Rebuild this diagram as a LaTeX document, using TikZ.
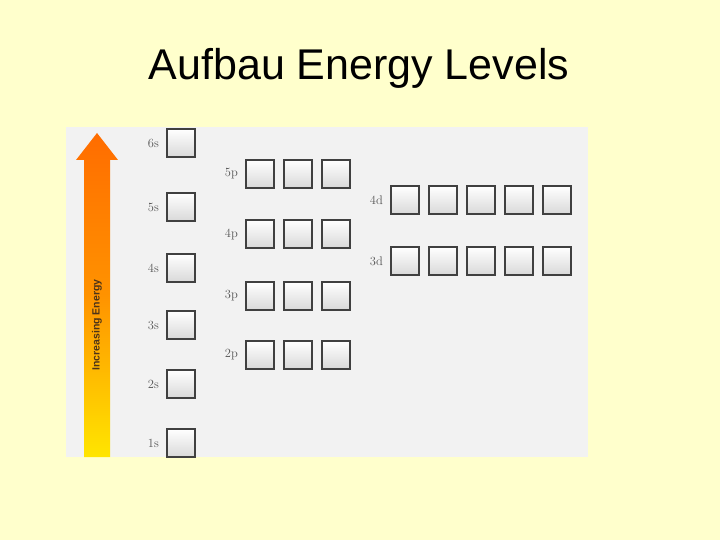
\documentclass[tikz,border=0pt]{standalone}
\usepackage{fontspec}
\setsansfont{Liberation Sans}
\usetikzlibrary{positioning}
\definecolor{pagebg}{HTML}{FFFFCC}
\definecolor{panelbg}{HTML}{F2F2F2}
\definecolor{lblgray}{HTML}{555555}
\tikzset{
  orbital/.style={draw=black!75, line width=1.1pt, minimum size=28pt, inner sep=0pt,
    top color=white, bottom color=black!15},
  sublabel/.style={text=lblgray, font=\fontsize{12.5}{12.5}\selectfont, anchor=east}
}
\begin{document}
\begin{tikzpicture}[x=1pt,y=-1pt]
\useasboundingbox (0,0) rectangle (720,540);
\fill [pagebg] (0,0) rectangle (720,540);
\node (title) at (359,68) {\sffamily\fontsize{43}{43}\selectfont Aufbau Energy Levels};
\fill [panelbg] (66,127) rectangle (588,457);
% energy arrow
\shade [bottom color=yellow!80!orange, top color=orange!85!red, middle color=orange!85!yellow]
  (84,457) -- (84,160) -- (76,160) -- (97,133) -- (118,160) -- (110,160) -- (110,457) -- cycle;
\node (axis) [rotate=90, font=\sffamily\bfseries\fontsize{10.5}{10.5}\selectfont, text=black!60!brown] at (97,325) {Increasing Energy};
% s levels
\foreach \n/\y in {6/143,5/207,4/268,3/325,2/384,1/443}{
  \node [orbital] (s\n) at (181,\y) {};
  \node [sublabel, left=4pt of s\n] {\n s};
}
% p levels
\foreach \n/\y in {5/174,4/234,3/296,2/355}{
  \foreach \k/\x in {1/260,2/298,3/336}
    \node [orbital] (p\n\k) at (\x,\y) {};
  \node [sublabel, left=4pt of p\n1] {\n p};
}
% d levels
\foreach \n/\y in {4/200,3/261}{
  \foreach \k/\x in {1/405,2/443,3/481,4/519,5/557}
    \node [orbital] (d\n\k) at (\x,\y) {};
  \node [sublabel, left=4pt of d\n1] {\n d};
}
\end{tikzpicture}
\end{document}
